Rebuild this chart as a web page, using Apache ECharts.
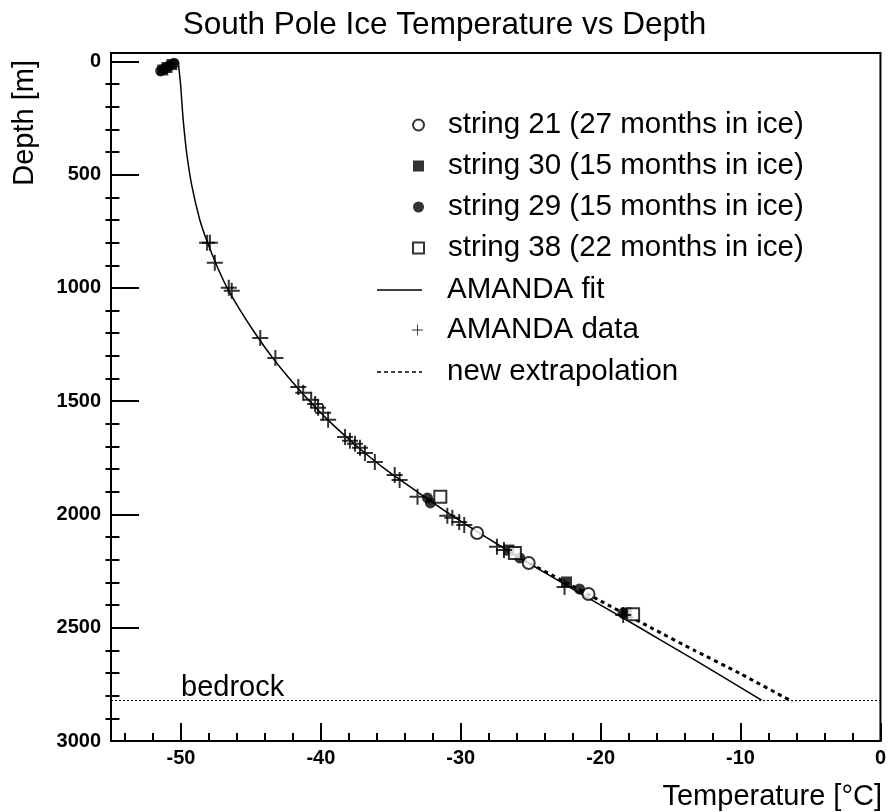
<!DOCTYPE html>
<html>
<head>
<meta charset="utf-8">
<script src="https://cdn.jsdelivr.net/npm/echarts@6/dist/echarts.min.js"></script>
<style>
html,body{margin:0;padding:0;background:#fff;}
#chart{width:889px;height:812px;}
</style>
</head>
<body>
<div id="chart"></div>
<script>
// ---- Data (depth [m], temperature [°C]) ----
const titleText = 'South Pole Ice Temperature vs Depth';
const xTitle = 'Temperature [°C]';
const yTitle = 'Depth [m]';

const tempLabels = [-50, -40, -30, -20, -10, 0];
const tempMinor = [-54,-52,-48,-46,-44,-42,-38,-36,-34,-32,-28,-26,-24,-22,-18,-16,-14,-12,-8,-6,-4,-2];
const depthLabels = [0, 500, 1000, 1500, 2000, 2500, 3000];
const depthMinor = [100,200,300,400,600,700,800,900,1100,1200,1300,1400,1600,1700,1800,1900,2100,2200,2300,2400,2600,2700,2800,2900];
const bedrockDepth = 2820;

// AMANDA fit curve: [temperature, depth]
const fitT = [-50.2,-50.03,-49.85,-49.6,-49.22,-48.65,-48.1,-47.45,-46.7,-45.75,-44.7,-43.55,-42.25,-40.8,-39.2,-37.4,-35.4,-33.1,-30.75,-28.2,-25.55,-22.8,-20.0,-17.2,-14.45,-11.7,-8.5];
const fitD = [0,100,250,400,550,700,800,900,1000,1100,1200,1300,1400,1500,1600,1700,1800,1900,2000,2100,2200,2300,2400,2500,2600,2700,2820];

// new extrapolation
const extT = [-25.55,-22.5,-19.45,-16.4,-13.3,-10.1,-6.3];
const extD = [2200,2300,2400,2500,2600,2700,2826];

// strings
const s21T = [-28.83,-25.14,-20.87];
const s21D = [2082,2214,2351];
const s30T = [-51.3,-51.0,-50.65,-26.56,-22.44,-18.17];
const s30D = [38,27,14,2157,2298,2435];
const s29T = [-51.45,-51.2,-50.85,-50.5,-32.38,-32.17,-25.78,-21.51,-18.4];
const s29D = [42,33,20,8,1927,1949,2192,2329,2436];
const s38T = [-31.46,-26.13,-17.68];
const s38D = [1922,2170,2440];

// AMANDA data crosses
const amT = [-48.13,-47.93,-47.58,-46.58,-46.37,-44.33,-43.25,-41.61,-41.26,-40.69,-40.41,-40.2,-39.84,-39.48,-38.27,-37.92,-37.56,-37.2,-36.85,-36.14,-34.72,-34.37,-33.09,-30.96,-30.6,-30.11,-29.75,-27.41,-26.91,-22.58,-18.39];
const amD = [801,801,889,999,1013,1221,1309,1437,1463,1494,1512,1529,1551,1582,1658,1675,1688,1706,1729,1768,1826,1848,1922,2006,2015,2033,2047,2143,2157,2320,2444];

const zip = (a, b) => a.map((v, i) => [v, b[i]]);

const FONT = "'Liberation Sans', Arial, Helvetica, sans-serif";
const crossPath = 'path://M0,7L16,7L16,9L0,9Z M7,0L9,0L9,16L7,16Z';
const thinCross = 'path://M0,5.5L12,5.5L12,6.5L0,6.5Z M5.5,0L6.5,0L6.5,12L5.5,12Z';
const solidIcon = 'path://M0,0L45,0L45,1.6L0,1.6Z';
const dashIcon = 'path://M0,0h4v1.6h-4Z M7,0h4v1.6h-4Z M14,0h4v1.6h-4Z M21,0h4v1.6h-4Z M28,0h4v1.6h-4Z M35,0h4v1.6h-4Z M42,0h3v1.6h-3Z';

const chart = echarts.init(document.getElementById('chart'), null, {renderer: 'canvas'});

const GRID_W = 889 - 111 - 3;
const GRID_H = 812 - 53 - 71;
const legendText = {fontSize: 29.5, fontFamily: FONT, color: '#000', lineHeight: 30};
const plainNum = v => String(v);

const option = {
  backgroundColor: '#fff',
  animation: false,
  title: {
    text: titleText, left: 'center', top: 4,
    textStyle: {fontSize: 31.5, fontWeight: 'normal', fontFamily: FONT, color: '#000'}
  },
  grid: {left: 111, right: 3, top: 53, bottom: 71, show: true, borderColor: '#000', borderWidth: 2, backgroundColor: 'transparent'},
  legend: [
    {data: ['string 21 (27 months in ice)', 'string 30 (15 months in ice)', 'string 29 (15 months in ice)', 'string 38 (22 months in ice)'],
     orient: 'vertical', left: 412, top: 110, itemWidth: 11, itemHeight: 11, itemGap: 11, padding: 0,
     textStyle: Object.assign({padding: [0,0,0,19]}, legendText)},
    {data: [{name: 'AMANDA fit', icon: solidIcon}], orient: 'vertical', left: 377, top: 275, itemWidth: 45, itemHeight: 11, padding: 0,
     textStyle: Object.assign({padding: [0,0,0,20]}, legendText)},
    {data: [{name: 'AMANDA data', icon: thinCross}], orient: 'vertical', left: 412, top: 315, itemWidth: 11, itemHeight: 11, padding: 0,
     textStyle: Object.assign({padding: [0,0,0,19]}, legendText)},
    {data: [{name: 'new extrapolation', icon: dashIcon}], orient: 'vertical', left: 377, top: 357, itemWidth: 45, itemHeight: 11, padding: 0,
     textStyle: Object.assign({padding: [0,0,0,20]}, legendText)}
  ],
  xAxis: [
    {type: 'value', min: -55, max: 0, position: 'bottom',
     axisLine: {show: true, onZero: false, lineStyle: {color: '#000', width: 2}},
     axisTick: {show: true, inside: true, length: 18, customValues: tempLabels, lineStyle: {color: '#000', width: 2}},
     axisLabel: {show: true, customValues: tempLabels, formatter: plainNum, margin: 7, fontSize: 20, fontWeight: 'bold', fontFamily: FONT, color: '#000'},
     splitLine: {show: false}},
    {type: 'value', min: -55, max: 0, position: 'top', offset: -GRID_H,
     axisLine: {show: false, onZero: false},
     axisTick: {show: true, inside: false, length: 8, customValues: tempMinor, lineStyle: {color: '#000', width: 2}},
     axisLabel: {show: false}, splitLine: {show: false}}
  ],
  yAxis: [
    {type: 'value', inverse: true, min: -37, max: 3000, position: 'left',
     axisLine: {show: true, onZero: false, lineStyle: {color: '#000', width: 2}},
     axisTick: {show: true, inside: true, length: 28, customValues: depthLabels, lineStyle: {color: '#000', width: 2}},
     axisLabel: {show: true, customValues: depthLabels, formatter: plainNum, margin: 10, fontSize: 20, fontWeight: 'bold', fontFamily: FONT, color: '#000'},
     splitLine: {show: false}},
    {type: 'value', inverse: true, min: -37, max: 3000, position: 'right', offset: -GRID_W,
     axisLine: {show: false, onZero: false},
     axisTick: {show: true, inside: false, length: 14, customValues: depthMinor, lineStyle: {color: '#000', width: 2}},
     axisLabel: {show: false}, splitLine: {show: false}}
  ],
  graphic: [
    {type: 'text', x: 25, y: 60, rotation: Math.PI / 2,
     style: {text: yTitle, font: '29px ' + FONT, fill: '#000', textAlign: 'right', textVerticalAlign: 'middle'}},
    {type: 'text', x: 882, y: 797,
     style: {text: xTitle, font: '29px ' + FONT, fill: '#000', textAlign: 'right', textVerticalAlign: 'middle'}}
  ],
  series: [
    {name: 'AMANDA fit', type: 'line', data: zip(fitT, fitD), smooth: 0.3, showSymbol: false, symbol: 'none',
     lineStyle: {color: '#000', width: 1.5}, itemStyle: {color: '#000'}, z: 2,
     markLine: {silent: true, symbol: 'none', animation: false,
       data: [{yAxis: bedrockDepth}],
       lineStyle: {color: '#000', width: 1, type: [2, 2]},
       label: {show: true, formatter: 'bedrock', position: 'insideStartTop', distance: [70, -2], fontSize: 29, fontFamily: FONT, color: '#000'}}},
    {name: 'new extrapolation', type: 'line', data: zip(extT, extD), smooth: 0.2, showSymbol: false, symbol: 'none',
     lineStyle: {color: '#000', width: 3, type: [4, 4]}, itemStyle: {color: '#000'}, z: 2},
    {name: 'string 21 (27 months in ice)', type: 'scatter', data: zip(s21T, s21D), symbol: 'emptyCircle', symbolSize: 12,
     itemStyle: {color: '#000', borderColor: '#000', borderWidth: 2}, z: 3},
    {name: 'string 30 (15 months in ice)', type: 'scatter', data: zip(s30T, s30D), symbol: 'rect', symbolSize: 11,
     itemStyle: {color: '#000'}, z: 3},
    {name: 'string 29 (15 months in ice)', type: 'scatter', data: zip(s29T, s29D), symbol: 'circle', symbolSize: 11,
     itemStyle: {color: '#000'}, z: 3},
    {name: 'string 38 (22 months in ice)', type: 'scatter', data: zip(s38T, s38D), symbol: 'emptyRect', symbolSize: 12,
     itemStyle: {color: '#000', borderColor: '#000', borderWidth: 2}, z: 3},
    {name: 'AMANDA data', type: 'scatter', data: zip(amT, amD), symbol: crossPath, symbolSize: 16,
     itemStyle: {color: '#000'}, z: 4}
  ]
};
chart.setOption(option);
</script>
</body>
</html>
